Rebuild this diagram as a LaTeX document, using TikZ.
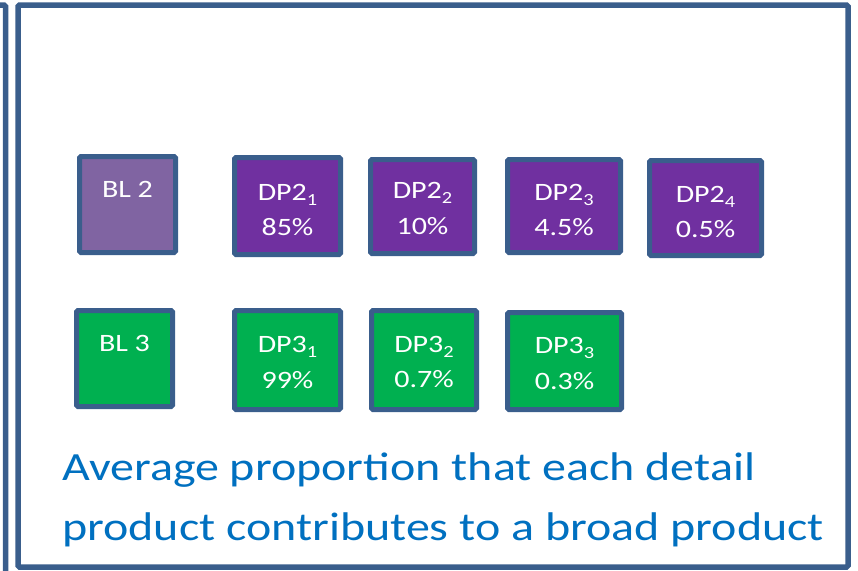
\documentclass[tikz,border=0pt]{standalone}
\usepackage{fontspec}
\newfontfamily\wfont[FakeStretch=1.2]{Carlito}
\definecolor{bordc}{HTML}{3A5E8C}
\definecolor{lpurp}{HTML}{8064A2}
\definecolor{dpurp}{HTML}{7030A0}
\definecolor{dgreen}{HTML}{00B050}
\definecolor{tblue}{HTML}{0070C0}
\newcommand\mysub[1]{\raisebox{-5pt}{\fontsize{17}{17}\selectfont #1}}
\begin{document}
\begin{tikzpicture}[x=1pt,y=-1pt,
  frameline/.style={draw=bordc, line width=5.5pt, rounded corners=1.5pt},
  pbox/.style 2 args={draw=bordc, line width=5pt, rounded corners=1.5pt, inner sep=0pt, outer sep=0pt, minimum width=#1pt, minimum height=#2pt},
  txt/.style={text=white, font=\wfont\fontsize{25}{25}\selectfont, inner sep=0pt, anchor=base},
  captxt/.style={text=tblue, font=\wfont\fontsize{40}{40}\selectfont, inner sep=0pt, anchor=base west}]
\useasboundingbox (0,0) rectangle (858,570);
% frames
\draw[frameline] (-10,5) -- (5.5,5) -- (5.5,585);
\draw[frameline] (18,5) rectangle (848,567);
% row 2
\node[pbox={96}{96}, fill=lpurp] (bl2) at (127.5,204.5) {};
\node[pbox={106}{97}, fill=dpurp] (dp21) at (287.5,206) {};
\node[pbox={104}{94}, fill=dpurp] (dp22) at (422.5,206.5) {};
\node[pbox={113}{93}, fill=dpurp] (dp23) at (564,206) {};
\node[pbox={112}{95}, fill=dpurp] (dp24) at (705.5,208) {};
\node[txt] (bl2t) at (127.5,197) {BL 2};
\node[txt] (dp21a) at (287.5,200) {DP2\mysub{1}};
\node[txt] (dp21b) at (287.5,235) {85\%};
\node[txt] (dp22a) at (422.5,198.5) {DP2\mysub{2}};
\node[txt] (dp22b) at (422.5,234) {10\%};
\node[txt] (dp23a) at (564,200) {DP2\mysub{3}};
\node[txt] (dp23b) at (564,235) {4.5\%};
\node[txt] (dp24a) at (705.5,202) {DP2\mysub{4}};
\node[txt] (dp24b) at (705.5,237) {0.5\%};
% row 3
\node[pbox={96}{96}, fill=dgreen] (bl3) at (124.5,358.5) {};
\node[pbox={106}{99}, fill=dgreen] (dp31) at (287.5,360) {};
\node[pbox={105}{99}, fill=dgreen] (dp32) at (424,360) {};
\node[pbox={114}{97}, fill=dgreen] (dp33) at (564.5,361) {};
\node[txt] (bl3t) at (124.5,351) {BL 3};
\node[txt] (dp31a) at (287.5,352) {DP3\mysub{1}};
\node[txt] (dp31b) at (287.5,388) {99\%};
\node[txt] (dp32a) at (424,352) {DP3\mysub{2}};
\node[txt] (dp32b) at (424,387) {0.7\%};
\node[txt] (dp33a) at (564.5,353) {DP3\mysub{3}};
\node[txt] (dp33b) at (564.5,389) {0.3\%};
% caption
\node[captxt] (cap1) at (62,480) {Average proportion that each detail};
\node[captxt] (cap2) at (62,540) {product contributes to a broad product};
\end{tikzpicture}
\end{document}
